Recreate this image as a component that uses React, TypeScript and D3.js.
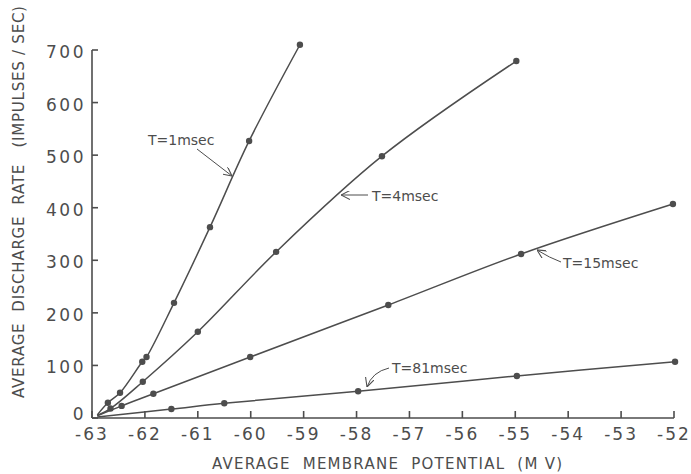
import { useEffect, useRef } from 'react';
import * as d3 from 'd3';

// tau = 1 msec
const TAU1_X = [-62.9, -62.7, -62.47, -62.05, -61.97, -61.45, -60.77, -60.03, -59.07];
const TAU1_Y = [6, 29, 48, 107, 116, 219, 363, 527, 710];
// tau = 4 msec
const TAU4_X = [-62.9, -62.65, -62.04, -61.0, -59.52, -57.52, -54.98];
const TAU4_Y = [5, 18, 69, 164, 316, 498, 679];
// tau = 15 msec
const TAU15_X = [-62.9, -62.44, -61.84, -60.01, -57.4, -54.89, -52.02];
const TAU15_Y = [4, 23, 46, 116, 215, 312, 407];
// tau = 81 msec
const TAU81_X = [-62.9, -61.5, -60.5, -57.97, -54.97, -51.98];
const TAU81_Y = [2, 17, 28, 51, 80, 107];

const SERIES_LABELS = ['Τ=1msec', 'Τ=4msec', 'Τ=15msec', 'Τ=81msec'];

const X_TICKS = [-63, -62, -61, -60, -59, -58, -57, -56, -55, -54, -53, -52];
const Y_TICKS = [0, 100, 200, 300, 400, 500, 600, 700];

const X_TITLE = 'AVERAGE  MEMBRANE  POTENTIAL  (M V)';
const Y_TITLE = 'AVERAGE  DISCHARGE  RATE   (IMPULSES / SEC)';

const INK = '#4d4d4d';
const FONT = '"DejaVu Sans", sans-serif';

export default function App() {
  const svgRef = useRef<SVGSVGElement>(null);

  useEffect(() => {
    if (!svgRef.current) return;
    const width = 691;
    const height = 474;
    const svg = d3.select(svgRef.current);
    svg.selectAll('*').remove();
    svg.attr('width', width).attr('height', height);

    const x = d3.scaleLinear().domain([-63, -52]).range([92, 674]);
    const y = d3.scaleLinear().domain([0, 700]).range([418, 50]);

    svg.append('rect').attr('width', width).attr('height', height).attr('fill', '#ffffff');

    const defs = svg.append('defs');
    defs.append('marker')
      .attr('id', 'arr')
      .attr('viewBox', '0 0 10 10')
      .attr('refX', 10).attr('refY', 5)
      .attr('markerWidth', 9).attr('markerHeight', 9)
      .attr('markerUnits', 'userSpaceOnUse')
      .attr('orient', 'auto')
      .append('path')
      .attr('d', 'M0,0 L10,5 L0,10')
      .attr('fill', 'none')
      .attr('stroke', INK)
      .attr('stroke-width', 1.2);

    // axes
    const axisG = svg.append('g').attr('stroke', INK).attr('stroke-width', 1.6).attr('fill', 'none');
    axisG.append('line').attr('x1', x(-63)).attr('x2', x(-63)).attr('y1', y(700)).attr('y2', y(0));
    axisG.append('line').attr('x1', x(-63)).attr('x2', x(-52)).attr('y1', y(0)).attr('y2', y(0));
    Y_TICKS.forEach((t) => {
      axisG.append('line').attr('x1', x(-63)).attr('x2', x(-63) + 6).attr('y1', y(t)).attr('y2', y(t));
    });
    X_TICKS.forEach((t) => {
      axisG.append('line').attr('x1', x(t)).attr('x2', x(t)).attr('y1', y(0)).attr('y2', y(0) - 7);
    });

    const txt = svg.append('g').attr('fill', INK).attr('font-family', FONT);
    Y_TICKS.forEach((t) => {
      txt.append('text')
        .attr('x', x(-63) - 6).attr('y', y(t) + (t === 0 ? 2 : 8))
        .attr('text-anchor', 'end')
        .attr('font-size', 17)
        .attr('letter-spacing', 2.5)
        .text(t);
    });
    X_TICKS.forEach((t) => {
      txt.append('text')
        .attr('x', x(t)).attr('y', 440)
        .attr('text-anchor', 'middle')
        .attr('font-size', 17)
        .attr('letter-spacing', 2)
        .text(t);
    });

    txt.append('text')
      .attr('x', 212).attr('y', 469)
      .attr('font-size', 15)
      .attr('textLength', 350)
      .attr('lengthAdjust', 'spacing')
      .style('white-space', 'pre')
      .text(X_TITLE);

    txt.append('text')
      .attr('transform', 'translate(24,398) rotate(-90)')
      .attr('font-size', 15)
      .attr('textLength', 392)
      .attr('lengthAdjust', 'spacing')
      .style('white-space', 'pre')
      .text(Y_TITLE);

    // curves
    const series = [
      [TAU1_X, TAU1_Y],
      [TAU4_X, TAU4_Y],
      [TAU15_X, TAU15_Y],
      [TAU81_X, TAU81_Y],
    ];
    const line = d3.line<[number, number]>()
      .x((d) => x(d[0]))
      .y((d) => y(d[1]))
      .curve(d3.curveCatmullRom.alpha(0.5));

    series.forEach(([xs, ys]) => {
      const pts = xs.map((v, i) => [v, ys[i]] as [number, number]);
      svg.append('path')
        .datum(pts)
        .attr('d', line)
        .attr('fill', 'none')
        .attr('stroke', INK)
        .attr('stroke-width', 1.5);
      svg.append('g').selectAll('circle')
        .data(pts.slice(1))
        .join('circle')
        .attr('cx', (d) => x(d[0]))
        .attr('cy', (d) => y(d[1]))
        .attr('r', 3.2)
        .attr('fill', INK);
    });

    // annotations
    const notes = [
      { tx: 148, ty: 145, path: 'M197,149 L232,176' },
      { tx: 372, ty: 201, path: 'M368,195 L341,195' },
      { tx: 563, ty: 268, path: 'M561,262 Q550,258 537,250' },
      { tx: 392, ty: 373, path: 'M389,368 Q372,372 367,387' },
    ];
    notes.forEach((n, i) => {
      txt.append('text')
        .attr('x', n.tx).attr('y', n.ty)
        .attr('font-size', 14)
        .text(SERIES_LABELS[i]);
      svg.append('path')
        .attr('d', n.path)
        .attr('fill', 'none')
        .attr('stroke', INK)
        .attr('stroke-width', 1)
        .attr('marker-end', 'url(#arr)');
    });
  }, []);

  return <svg ref={svgRef} style={{ position: 'absolute', left: 0, top: 0, display: 'block' }} />;
}
